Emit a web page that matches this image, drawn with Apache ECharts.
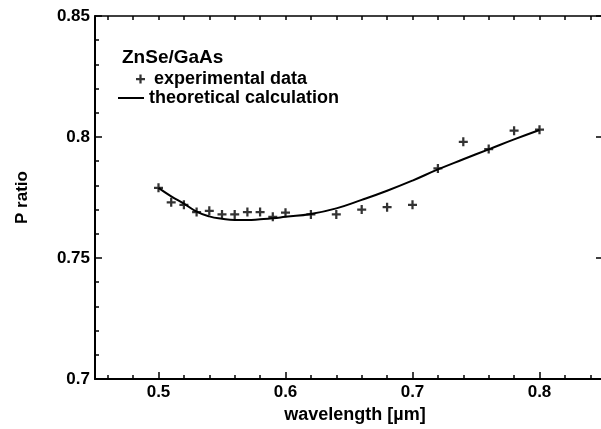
<!DOCTYPE html>
<html style="height: 100%">
<head>
<meta charset="utf-8">
<script src="https://cdn.jsdelivr.net/npm/echarts@6/dist/echarts.min.js"></script>
</head>
<body style="height: 100%; margin: 0; background: #fff;">
<div id="container" style="width: 601px; height: 429px;"></div>
<script>
// experimental points (+)
var expX = [0.50, 0.51, 0.52, 0.53, 0.54, 0.55, 0.56, 0.57, 0.58, 0.59, 0.60, 0.62, 0.64, 0.66, 0.68, 0.70, 0.72, 0.74, 0.76, 0.78, 0.80];
var expY = [0.779, 0.773, 0.772, 0.769, 0.7695, 0.768, 0.768, 0.769, 0.769, 0.767, 0.7687, 0.768, 0.768, 0.770, 0.771, 0.772, 0.787, 0.798, 0.795, 0.8026, 0.803];
// theoretical curve
var theoX = [0.50, 0.51, 0.52, 0.53, 0.54, 0.55, 0.56, 0.57, 0.58, 0.59, 0.60, 0.62, 0.64, 0.66, 0.68, 0.70, 0.72, 0.74, 0.76, 0.78, 0.80];
var theoY = [0.779, 0.7755, 0.7725, 0.7692, 0.7672, 0.7662, 0.7657, 0.7657, 0.7660, 0.7664, 0.7670, 0.7682, 0.7705, 0.7740, 0.7778, 0.7820, 0.7866, 0.7908, 0.7949, 0.7990, 0.8029];
// ticks
var xLabels = [0.5, 0.6, 0.7, 0.8];
var xMinor = [0.46, 0.48, 0.52, 0.54, 0.56, 0.58, 0.62, 0.64, 0.66, 0.68, 0.72, 0.74, 0.76, 0.78, 0.82, 0.84];
var xAllTicks = [0.46, 0.48, 0.5, 0.52, 0.54, 0.56, 0.58, 0.6, 0.62, 0.64, 0.66, 0.68, 0.7, 0.72, 0.74, 0.76, 0.78, 0.8, 0.82, 0.84];

var plusIcon = 'path://M3.75,0H6.25V3.75H10V6.25H6.25V10H3.75V6.25H0V3.75H3.75Z';
var lineIcon = 'path://M0,0H26V2H0Z';
var font = 'Liberation Sans';

var expData = expX.map(function (x, i) { return [x, expY[i]]; });
var theoData = theoX.map(function (x, i) { return [x, theoY[i]]; });

var chart = echarts.init(document.getElementById('container'));
chart.setOption({
  animation: false,
  backgroundColor: '#fff',
  textStyle: { fontFamily: font, color: '#000' },
  title: {
    text: 'ZnSe/GaAs',
    left: 122, top: 48, padding: 0,
    textStyle: { fontFamily: font, fontSize: 19, fontWeight: 'bold', color: '#000' }
  },
  legend: [
    {
      data: [{ name: 'experimental data', icon: plusIcon }],
      left: 136, top: 70, padding: 0,
      itemWidth: 17, itemHeight: 9,
      textStyle: { fontFamily: font, fontSize: 18, fontWeight: 'bold', color: '#000' }
    },
    {
      data: [{ name: 'theoretical calculation', icon: lineIcon }],
      left: 118, top: 89, padding: 0,
      itemWidth: 26, itemHeight: 10,
      textStyle: { fontFamily: font, fontSize: 18, fontWeight: 'bold', color: '#000' }
    }
  ],
  grid: { left: 95, top: 16, width: 508, height: 363, outerBoundsMode: 'none' },
  xAxis: [
    {
      type: 'value', min: 0.45, max: 0.85, position: 'bottom',
      name: 'wavelength [\u00b5m]', nameLocation: 'middle', nameGap: 25,
      nameTextStyle: { fontFamily: font, fontSize: 18, fontWeight: 'bold', color: '#000', padding: [0, 0, 0, 12] },
      axisLine: { lineStyle: { color: '#000', width: 2 } },
      axisTick: { inside: true, length: 7, customValues: xLabels, lineStyle: { color: '#000', width: 1.5 } },
      axisLabel: { customValues: xLabels, margin: 5, fontFamily: font, fontSize: 17, fontWeight: 'bold', color: '#000' },
      splitLine: { show: false }
    },
    {
      type: 'value', min: 0.45, max: 0.85, position: 'bottom',
      axisLine: { show: false },
      axisTick: { inside: true, length: 4, customValues: xMinor, lineStyle: { color: '#000', width: 1.5 } },
      axisLabel: { show: false },
      splitLine: { show: false }
    },
    {
      type: 'value', min: 0.45, max: 0.85, position: 'top',
      axisLine: { lineStyle: { color: '#000', width: 1.5 } },
      axisTick: { inside: true, length: 4, customValues: xAllTicks, lineStyle: { color: '#000', width: 1.5 } },
      axisLabel: { show: false },
      splitLine: { show: false }
    }
  ],
  yAxis: [
    {
      type: 'value', min: 0.7, max: 0.85, interval: 0.05, position: 'left',
      name: 'P ratio', nameLocation: 'middle', nameGap: 64,
      nameTextStyle: { fontFamily: font, fontSize: 17, fontWeight: 'bold', color: '#000' },
      axisLine: { lineStyle: { color: '#000', width: 2 } },
      axisTick: { inside: true, length: 7, lineStyle: { color: '#000', width: 1.5 } },
      minorTick: { show: true, splitNumber: 5, length: 4, lineStyle: { color: '#000', width: 1.5 } },
      axisLabel: { margin: 5, fontFamily: font, fontSize: 17, fontWeight: 'bold', color: '#000' },
      splitLine: { show: false }
    },
    {
      type: 'value', min: 0.7, max: 0.85, interval: 0.05, position: 'right',
      axisLine: { lineStyle: { color: '#000', width: 2 } },
      axisTick: { inside: true, length: 7, lineStyle: { color: '#000', width: 1.5 } },
      axisLabel: { show: false },
      splitLine: { show: false }
    }
  ],
  series: [
    {
      name: 'experimental data',
      type: 'scatter',
      data: expData,
      symbol: plusIcon,
      symbolSize: 9,
      itemStyle: { color: '#000' }
    },
    {
      name: 'theoretical calculation',
      type: 'line',
      data: theoData,
      smooth: true,
      symbol: 'none',
      lineStyle: { color: '#000', width: 2 },
      itemStyle: { color: '#000' }
    }
  ]
});
</script>
</body>
</html>
